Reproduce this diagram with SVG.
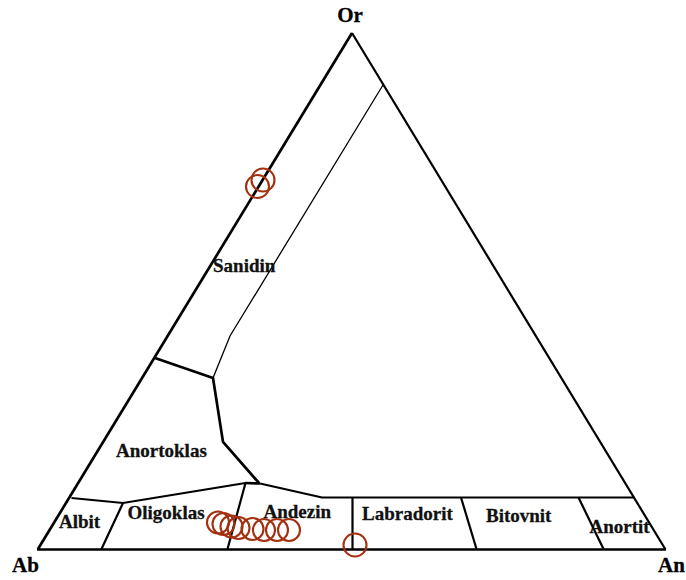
<svg xmlns="http://www.w3.org/2000/svg" width="686" height="580" viewBox="0 0 686 580">
<style>
.lbl{font-family:"Liberation Serif","Times New Roman",serif;font-weight:bold;font-size:19px;fill:#111;stroke:#111;stroke-width:0.3}
.corner{font-family:"Liberation Serif","Times New Roman",serif;font-weight:bold;font-size:21px;fill:#000;stroke:#000;stroke-width:0.3}
.thick{fill:none;stroke:#000;stroke-width:2.7;stroke-linejoin:miter}
.mid{fill:none;stroke:#000;stroke-width:2.2}
.thin{fill:none;stroke:#000;stroke-width:1.3}
.pt{fill:none;stroke:#a3300f;stroke-width:2.1}
</style>
<rect width="686" height="580" fill="#fff"/>
<g id="connectors">
  <line class="thick" x1="38" y1="549" x2="352" y2="33"/>
  <line class="mid" x1="352" y1="33" x2="665.5" y2="549.5"/>
  <line class="thick" x1="37" y1="549.5" x2="666" y2="549.5"/>
  <polyline class="thin" points="383,85 230,336 213,378"/>
  <polyline class="thick" points="155,358 213,378 223,442 259,483"/>
  <polyline class="mid" points="71.5,498 123,503 245.5,483"/>
  <line class="thick" x1="245" y1="483" x2="260" y2="483.5"/>
  <polyline class="mid" points="260,483.5 322,497.5 634.5,497.5"/>
  <line class="mid" x1="123" y1="503" x2="101.5" y2="549"/>
  <line class="mid" x1="245.5" y1="483" x2="227.5" y2="549"/>
  <line class="mid" x1="352.5" y1="497.5" x2="352.5" y2="549"/>
  <line class="mid" x1="461" y1="497.5" x2="476.5" y2="549"/>
  <line class="mid" x1="578.5" y1="497.5" x2="603.5" y2="549"/>
</g>
<g id="labels">
  <text class="corner" x="350" y="21.5" text-anchor="middle">Or</text>
  <text class="corner" x="12" y="571.5">Ab</text>
  <text class="corner" x="658" y="571.5">An</text>
  <text class="lbl" x="213" y="271.5">Sanidin</text>
  <text class="lbl" x="116" y="456.5">Anortoklas</text>
  <text class="lbl" x="59" y="528">Albit</text>
  <text class="lbl" x="127.5" y="519">Oligoklas</text>
  <text class="lbl" x="263.5" y="517.5">Andezin</text>
  <text class="lbl" x="362" y="520">Labradorit</text>
  <text class="lbl" x="486" y="521.5">Bitovnit</text>
  <text class="lbl" x="589.5" y="533">Anortit</text>
</g>
<g id="points">
  <circle class="pt" cx="257.5" cy="186.5" r="11.5"/>
  <circle class="pt" cx="263" cy="180" r="11.5"/>
  <circle class="pt" cx="218" cy="522.5" r="11"/>
  <circle class="pt" cx="223.5" cy="524" r="11"/>
  <circle class="pt" cx="231.5" cy="526.5" r="11"/>
  <circle class="pt" cx="238.5" cy="528" r="11"/>
  <circle class="pt" cx="252.5" cy="529" r="11"/>
  <circle class="pt" cx="264" cy="530" r="11"/>
  <circle class="pt" cx="277" cy="530" r="11"/>
  <circle class="pt" cx="289" cy="530" r="11"/>
  <circle class="pt" cx="355" cy="545" r="11.5"/>
</g>
</svg>
